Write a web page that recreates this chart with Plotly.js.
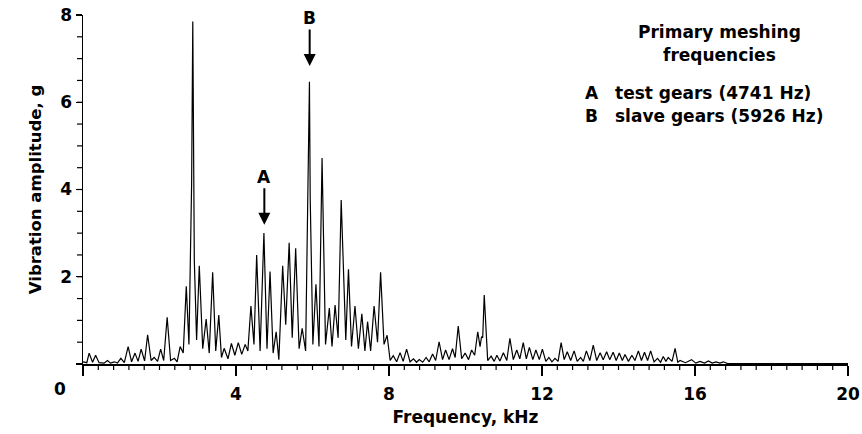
<!DOCTYPE html>
<html>
<head>
<meta charset="utf-8">
<script src="https://cdn.plot.ly/plotly-3.0.1.min.js"></script>
<style>html,body{margin:0;padding:0;background:#fff;}#chart{width:862px;height:434px;}</style>
</head>
<body>
<div id="chart"></div>
<script>
// Frequency (kHz) and vibration amplitude (g) (peaks and valleys)
const freqKHz = [
  0.00,0.10,0.16,0.25,0.33,0.42,0.55,0.64,0.72,0.82,0.90,0.99,1.08,1.18,1.27,1.36,1.44,1.52,1.61,1.69,
  1.78,1.86,1.95,2.03,2.11,2.20,2.29,2.39,2.46,2.54,2.62,2.70,2.77,2.84,2.87,2.91,2.97,3.04,3.13,3.22,
  3.30,3.39,3.47,3.55,3.62,3.69,3.79,3.88,3.97,4.06,4.15,4.24,4.31,4.39,4.47,4.54,4.63,4.73,4.81,4.89,
  4.97,5.05,5.12,5.22,5.30,5.39,5.47,5.56,5.65,5.73,5.82,5.92,5.94,6.01,6.09,6.17,6.25,6.34,6.44,6.51,
  6.59,6.67,6.75,6.81,6.87,6.94,7.02,7.11,7.20,7.29,7.37,7.44,7.52,7.61,7.70,7.78,7.87,7.95,8.03,8.11,
  8.20,8.29,8.37,8.46,8.55,8.64,8.72,8.79,8.88,8.97,9.05,9.14,9.22,9.31,9.40,9.48,9.57,9.66,9.73,9.81,
  9.90,9.99,10.08,10.16,10.24,10.32,10.38,10.42,10.45,10.49,10.58,10.67,10.75,10.82,10.90,10.99,11.08,11.16,11.25,11.34,
  11.42,11.51,11.59,11.67,11.76,11.84,11.93,12.01,12.10,12.18,12.26,12.34,12.42,12.50,12.58,12.66,12.75,12.84,12.92,13.01,
  13.08,13.16,13.25,13.34,13.43,13.52,13.60,13.69,13.77,13.86,13.94,14.02,14.10,14.17,14.26,14.35,14.43,14.52,14.60,14.68,
  14.76,14.84,14.93,15.02,15.10,15.17,15.24,15.30,15.40,15.48,15.55,15.61,15.75,15.91,16.02,16.13,16.25,16.35,16.45,16.55,
  16.65,16.74,16.85,17.50,18.50,20.00
];
const ampG = [
  0.05,0.03,0.25,0.04,0.20,0.03,0.02,0.08,0.02,0.05,0.02,0.13,0.03,0.40,0.05,0.25,0.06,0.34,0.07,0.67,
  0.08,0.15,0.06,0.34,0.08,1.07,0.08,0.13,0.05,0.40,0.25,1.78,0.45,4.15,7.85,2.38,0.55,2.25,0.35,1.03,
  0.25,2.10,0.30,1.12,0.15,0.36,0.12,0.47,0.20,0.49,0.22,0.45,0.30,1.33,0.45,2.50,0.30,3.00,0.35,2.12,
  0.25,0.74,0.10,2.25,0.90,2.78,0.60,2.65,0.35,0.82,0.30,6.47,3.80,0.45,1.83,0.40,4.72,0.45,1.28,0.40,
  1.35,0.60,3.76,2.20,0.55,2.17,0.40,1.33,0.35,1.15,0.30,0.97,0.30,1.33,0.50,2.10,0.45,0.66,0.08,0.19,
  0.05,0.26,0.06,0.34,0.05,0.12,0.04,0.10,0.04,0.15,0.05,0.23,0.08,0.51,0.10,0.32,0.10,0.35,0.15,0.87,
  0.12,0.25,0.10,0.32,0.20,0.74,0.40,0.63,0.60,1.58,0.08,0.18,0.06,0.20,0.07,0.26,0.08,0.59,0.10,0.32,
  0.12,0.49,0.12,0.38,0.10,0.32,0.10,0.34,0.06,0.15,0.05,0.13,0.06,0.49,0.10,0.28,0.08,0.30,0.06,0.15,
  0.06,0.30,0.08,0.43,0.08,0.26,0.10,0.28,0.10,0.27,0.08,0.25,0.08,0.22,0.06,0.20,0.08,0.30,0.08,0.27,
  0.08,0.30,0.05,0.13,0.04,0.17,0.06,0.15,0.06,0.36,0.04,0.08,0.03,0.10,0.02,0.06,0.02,0.07,0.02,0.05,
  0.02,0.05,0.01,0.01,0.01,0.01
];
// Primary meshing frequencies (kHz)
const meshLabels = ["A", "B"];
const meshFreqKHz = [4.741, 5.926];
const meshNames = ["test gears (4741 Hz)", "slave gears (5926 Hz)"];
const xMajorStep = 4, xMinorStep = 0.4, xMax = 20;
const yMajorStep = 2, yMinorStep = 0.5, yMax = 8;

const FONT = "DejaVu Sans, Verdana, sans-serif";
const black = "#000";
const PLOT_W = 765, PLOT_H = 349;

const trace = {
  x: freqKHz, y: ampG, type: "scatter", mode: "lines",
  line: {color: black, width: 1.2}, hoverinfo: "skip", showlegend: false
};

const arrowTipY = [3.19, 6.83];
const annotations = [];
meshLabels.forEach((lab, i) => {
  annotations.push({
    x: meshFreqKHz[i], y: arrowTipY[i], xref: "x", yref: "y",
    text: "<b>" + lab + "</b>", showarrow: true, arrowhead: 2, arrowsize: 1.2, arrowwidth: 2,
    arrowcolor: black, ax: 0, ay: -48, standoff: 0,
    font: {family: FONT, size: 17, color: black}
  });
});
function px2paperX(px){ return (px - 83) / PLOT_W; }
function px2paperY(py){ return (364 - py) / PLOT_H; }
const legFont = {family: FONT, size: 17, color: black};
annotations.push({xref:"paper", yref:"paper", x: px2paperX(719), y: px2paperY(32), text:"<b>Primary meshing</b>", showarrow:false, xanchor:"center", yanchor:"middle", font:legFont});
annotations.push({xref:"paper", yref:"paper", x: px2paperX(719), y: px2paperY(55), text:"<b>frequencies</b>", showarrow:false, xanchor:"center", yanchor:"middle", font:legFont});
meshLabels.forEach((lab, i) => {
  const py = [93, 116][i];
  annotations.push({xref:"paper", yref:"paper", x: px2paperX(583), y: px2paperY(py), text:"<b>" + lab + "</b>", showarrow:false, xanchor:"left", yanchor:"middle", font:legFont});
  annotations.push({xref:"paper", yref:"paper", x: px2paperX(613), y: px2paperY(py), text:"<b>" + meshNames[i] + "</b>", showarrow:false, xanchor:"left", yanchor:"middle", font:legFont});
});
annotations.push({xref:"paper", yref:"paper", x: px2paperX(60), y: px2paperY(389), text:"<b>0</b>", showarrow:false, xanchor:"center", yanchor:"middle", font:{family:FONT,size:17,color:black}});

// Tick marks drawn as shapes (axis decoration), placed through the axes' own scales
const shapes = [];
const nx = Math.round(xMax / xMinorStep);
for (let k = 0; k <= nx; k++) {
  const v = +(k * xMinorStep).toFixed(6);
  const major = Math.abs(v / xMajorStep - Math.round(v / xMajorStep)) < 1e-6;
  const len = major ? 10 : 6;
  shapes.push({type:"line", xref:"x", yref:"paper", x0:v, x1:v, y0:0, y1:-len / PLOT_H, line:{color:black, width: major ? 1.5 : 1.2}, layer:"above"});
}
const ny = Math.round(yMax / yMinorStep);
for (let k = 0; k <= ny; k++) {
  const v = +(k * yMinorStep).toFixed(6);
  shapes.push({type:"line", xref:"paper", yref:"y", x0:0, x1:-6 / PLOT_W, y0:v, y1:v, line:{color:black, width:1.2}, layer:"above"});
}

const layout = {
  width: 862, height: 434,
  margin: {l: 83, r: 14, t: 15, b: 70},
  showlegend: false,
  xaxis: {
    range: [0, xMax], tickmode: "linear", tick0: 0, dtick: xMajorStep, labelalias: {"0": " "},
    ticks: "outside", ticklen: 10, tickwidth: 1.5, tickcolor: black,
    showline: true, linewidth: 1.5, linecolor: black, showgrid: false, zeroline: false,
    tickfont: {family: FONT, size: 17, color: black, weight: "bold"},
    ticklabelstandoff: 4,
    title: {text: "Frequency, kHz", font: {family: FONT, size: 17, color: black, weight: "bold"}, standoff: 8}
  },
  yaxis: {
    range: [0, yMax], tickmode: "linear", tick0: 0, dtick: yMajorStep, labelalias: {"0": " "},
    ticks: "outside", ticklen: 6, tickwidth: 1.2, tickcolor: black,
    showline: true, linewidth: 1.5, linecolor: black, showgrid: false, zeroline: false,
    tickfont: {family: FONT, size: 17, color: black, weight: "bold"},
    title: {text: "Vibration amplitude, g", font: {family: FONT, size: 16.5, color: black, weight: "bold"}, standoff: 14}
  },
  annotations: annotations,
  shapes: shapes
};

Plotly.newPlot("chart", [trace], layout, {staticPlot: true, displayModeBar: false});
</script>
</body>
</html>
